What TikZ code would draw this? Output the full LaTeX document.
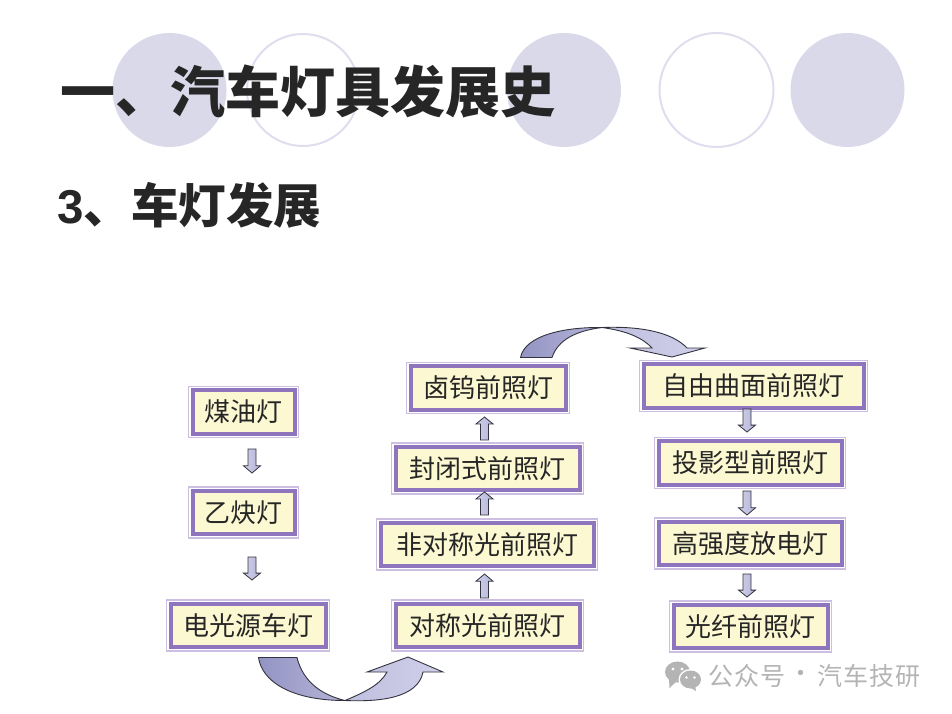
\documentclass[tikz,border=0pt]{standalone}
\usepackage{fontspec}
\setmainfont{Noto Sans CJK SC}
\newfontfamily\latinbold{Liberation Sans}[BoldFont={Liberation Sans Bold}]
\newfontfamily\wmfont[LetterSpace=5]{Noto Sans CJK SC}
\usetikzlibrary{calc}
\definecolor{disc}{HTML}{D9D9EA}
\definecolor{ring}{HTML}{DEDEEE}
\definecolor{boxfill}{HTML}{FBF8D2}
\definecolor{boxline}{HTML}{8F75BE}
\definecolor{boxedge}{HTML}{CDBFE2}
\definecolor{arrowdark}{HTML}{9494C4}
\definecolor{arrowmid}{HTML}{B4B4D8}
\definecolor{arrowlight}{HTML}{D0D0EA}
\definecolor{inkline}{HTML}{33333F}
\definecolor{wm}{HTML}{B4B4B4}
\tikzset{
  x=1pt,y=-1pt,
  stepbox/.style={rectangle,inner sep=0pt,outer sep=0pt,fill=boxfill,draw=boxline,line width=4pt,
    preaction={draw=boxedge,line width=9pt},
    preaction={draw=white,line width=6.4pt},
    font=\fontsize{26}{26}\selectfont,text=black!85,
    minimum height=43.5pt},
  discfill/.style={fill=disc,draw=none},
  discring/.style={draw=ring,line width=2pt,fill=white},
  blockarrow/.style={draw=inkline,line width=.8pt,left color=arrowlight,right color=arrowmid,
    to path={
      let \p1=(\tikztostart),\p2=(\tikztotarget),\n2={\y2-0.3*(\y2-\y1)} in
      (\x1-4pt,\y1) -- (\x1+4pt,\y1) -- (\x1+4pt,\n2) -- (\x1+8.5pt,\n2) -- (\x1,\y2) -- (\x1-8.5pt,\n2) -- (\x1-4pt,\n2) -- cycle}},
  swoopdark/.style={draw=inkline,line width=.9pt,left color=arrowdark,right color=arrowmid},
  swooplight/.style={draw=inkline,line width=.9pt,left color=arrowmid!60!arrowlight,right color=arrowlight},
  wmtext/.style={anchor=west,inner sep=0pt,text=wm,font=\fontsize{25}{25}\selectfont\wmfont},
}
\begin{document}
\begin{tikzpicture}
\useasboundingbox (0,0) rectangle (952,714);
\fill[white] (0,0) rectangle (952,714);
\fill[discfill] (169.5,90) circle (57);
\draw[discring] (303,90) circle (56);
\fill[discfill] (564,90) circle (57);
\draw[discring] (716.5,90) circle (57);
\fill[discfill] (847.5,90) circle (57);
\node[anchor=west,inner sep=0pt,text=black!85,font=\fontsize{55}{55}\selectfont\bfseries] (title) at (60,92) {一、汽车灯具发展史};
\node[anchor=west,inner sep=0pt,text=black!85,font=\fontsize{47.5}{47.5}\selectfont\bfseries] (subtitle) at (57,205) {{\latinbold 3}、车灯发展};
\node[stepbox,minimum width=102pt] (a1) at (243.5,412) {煤油灯};
\node[stepbox,minimum width=102pt] (a2) at (243.5,512.5) {乙炔灯};
\node[stepbox,minimum width=155pt] (a3) at (248,625.5) {电光源车灯};
\node[stepbox,minimum width=184pt] (b1) at (487.5,625.5) {对称光前照灯};
\node[stepbox,minimum width=213pt] (b2) at (487,544.5) {非对称光前照灯};
\node[stepbox,minimum width=184pt] (b3) at (487.5,468.5) {封闭式前照灯};
\node[stepbox,minimum width=155pt] (b4) at (488,388) {卤钨前照灯};
\node[stepbox,minimum width=220pt] (c1) at (753.5,386) {自由曲面前照灯};
\node[stepbox,minimum width=183pt] (c2) at (750,463) {投影型前照灯};
\node[stepbox,minimum width=183pt] (c3) at (750,543.5) {高强度放电灯};
\node[stepbox,minimum width=154pt] (c4) at (750.5,626.5) {光纤前照灯};
% straight block arrows, box to box
\coordinate (a12s) at (252,449); \coordinate (a12t) at (252,473);
\coordinate (a23s) at (252,557); \coordinate (a23t) at (252,580);
\coordinate (b12s) at (484.5,598); \coordinate (b12t) at (484.5,574);
\coordinate (b23s) at (484.5,515); \coordinate (b23t) at (484.5,492);
\coordinate (b34s) at (484.5,440); \coordinate (b34t) at (484.5,417);
\coordinate (c12s) at (747,409); \coordinate (c12t) at (747,432);
\coordinate (c23s) at (747,491); \coordinate (c23t) at (747,515);
\coordinate (c34s) at (747,574); \coordinate (c34t) at (747,597);
\draw[blockarrow] (a12s) to (a12t);
\draw[blockarrow] (a23s) to (a23t);
\draw[blockarrow] (b12s) to (b12t);
\draw[blockarrow] (b23s) to (b23t);
\draw[blockarrow] (b34s) to (b34t);
\draw[blockarrow] (c12s) to (c12t);
\draw[blockarrow] (c23s) to (c23t);
\draw[blockarrow] (c34s) to (c34t);
% lower swoop a3 -> b1
\coordinate (lowmid) at (345,700.5);
\draw[swoopdark] (258.5,657.5) .. controls (262,682) and (292,700.5) .. (lowmid)
  .. controls (322,695) and (303,682) .. (297,657.5) -- cycle;
\draw[swooplight] (lowmid) .. controls (380,702) and (418,698) .. (423,672)
  -- (443,672) -- (408,657) -- (367,672) -- (387,672)
  .. controls (380,685) and (365,692) .. (lowmid) -- cycle;
% upper swoop b4 -> c1
\coordinate (upmid) at (602,327.5);
\draw[swoopdark] (520.5,357.5) .. controls (525,335) and (565,327) .. (upmid)
  .. controls (575,331) and (558,340) .. (552,357.5) -- cycle;
\draw[swooplight] (upmid) .. controls (640,326) and (672,332) .. (687,348)
  -- (705,348) -- (672,357) -- (630,348) -- (652,348)
  .. controls (640,335) and (620,330) .. (upmid) -- cycle;
% watermark
\begin{scope}
\fill[wm] (677.5,672) ellipse (12.5 and 10.5);
\fill[wm] (669,679) -- (669.5,688) -- (677,681) -- cycle;
\fill[white] (690.5,679.5) ellipse (12 and 10.5);
\fill[wm] (690.5,679.5) ellipse (10.5 and 9);
\fill[wm] (695,685) -- (696,691) -- (689,687) -- cycle;
\fill[white] (673,669) circle (1.6) (682,669) circle (1.6) (686.5,677.5) circle (1.4) (694.5,677.5) circle (1.4);
\end{scope}
\node[wmtext] (wmark) at (708,676) {公众号};
\node[wmtext] (wmdot) at (788,676) {·};
\node[wmtext] (wmname) at (817,676) {汽车技研};
\end{tikzpicture}
\end{document}
